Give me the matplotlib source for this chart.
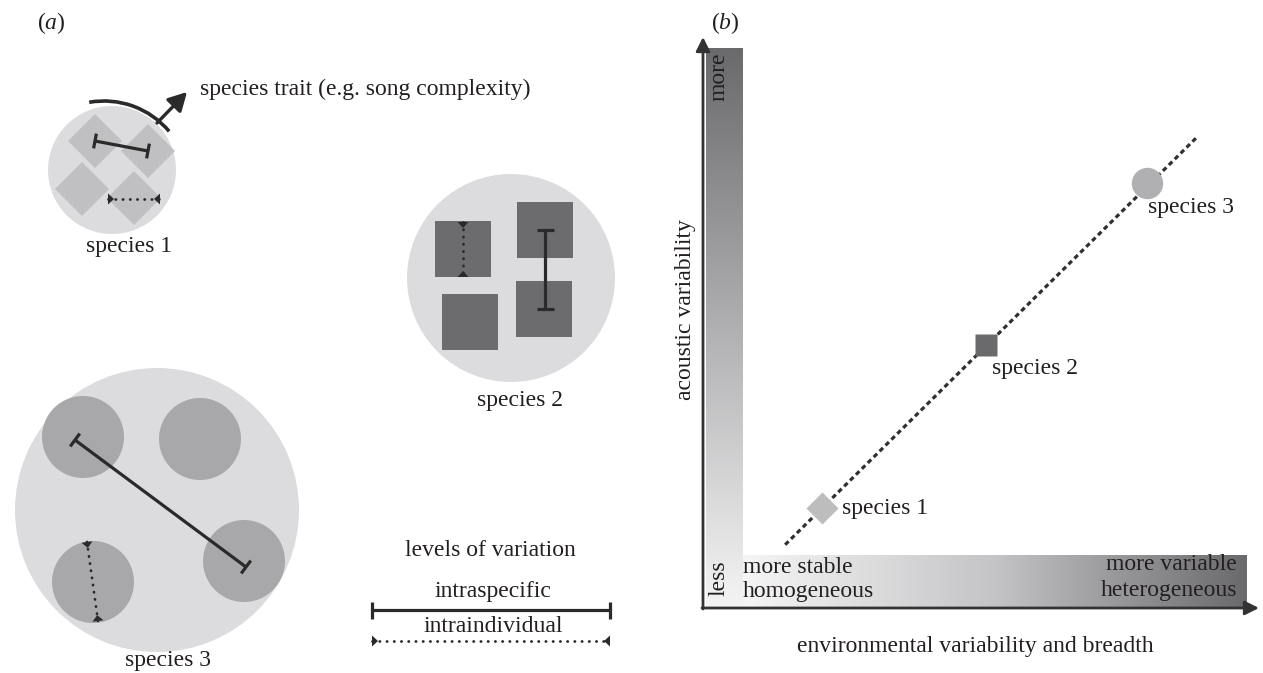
import numpy as np
import matplotlib
matplotlib.use('Agg')
import matplotlib.pyplot as plt
from matplotlib import patches
from matplotlib.colors import LinearSegmentedColormap

plt.rcParams['font.family'] = ['Liberation Serif', 'DejaVu Serif']
plt.rcParams['mathtext.fontset'] = 'custom'
plt.rcParams['mathtext.rm'] = 'Liberation Serif'
plt.rcParams['mathtext.it'] = 'Liberation Serif:italic'

# ---------------- data ----------------
species_names = ['species 1', 'species 2', 'species 3']
# panel (b): relative position of each species on the two gradients (0-1)
env_variability = [0.214, 0.510, 0.800]
acoustic_variability = [0.175, 0.461, 0.746]
# dashed trend line through the species
trend_env = [0.148, 0.890]
trend_acoustic = [0.111, 0.826]
legend_levels = ['intraspecific', 'intraindividual']
axis_labels = ['environmental variability and breadth', 'acoustic variability']
gradient_ends_x = ['more stable\nhomogeneous', 'more variable\nheterogeneous']
gradient_ends_y = ['less', 'more']

# ---------------- style ----------------
W, H = 1263, 673
FS = 17
TXT = '#231f20'
LINE = '#2a2a2a'
BIG = '#dcdcde'
C_DIAM = '#c0c0c2'
C_SQ = '#6c6c6e'
C_CIRC = '#a8a8aa'

fig = plt.figure(figsize=(W / 100, H / 100), dpi=100)
ax = fig.add_axes([0, 0, 1, 1])
ax.set_xlim(0, W)
ax.set_ylim(H, 0)
ax.axis('off')


def ibar(p0, p1, cap=16, lw=2.3):
    p0 = np.array(p0, float); p1 = np.array(p1, float)
    d = p1 - p0; u = d / np.linalg.norm(d); n = np.array([-u[1], u[0]])
    ax.plot([p0[0], p1[0]], [p0[1], p1[1]], color=LINE, lw=lw, solid_capstyle='butt', zorder=5)
    for p in (p0, p1):
        a = p + n * cap / 2; b = p - n * cap / 2
        ax.plot([a[0], b[0]], [a[1], b[1]], color=LINE, lw=lw, solid_capstyle='butt', zorder=5)


def dotbar(p0, p1, tri=6, half=5.5, lw=2.0):
    p0 = np.array(p0, float); p1 = np.array(p1, float)
    d = p1 - p0; u = d / np.linalg.norm(d); n = np.array([-u[1], u[0]])
    ax.plot([p0[0], p1[0]], [p0[1], p1[1]], color=LINE, lw=lw,
            linestyle=(0, (0.1, 2.5)), dash_capstyle='round', zorder=5)
    for p, s in ((p0, 1), (p1, -1)):
        tip = p + u * tri * s
        ax.add_patch(patches.Polygon([p + n * half, p - n * half, tip], closed=True,
                                     facecolor=LINE, edgecolor='none', zorder=6))


def txt(x, y, s, **kw):
    kw.setdefault('ha', 'center')
    kw.setdefault('va', 'baseline')
    ax.text(x, y, s, fontsize=FS, color=TXT, **kw)


# ---------------- panel (a) ----------------
txt(51, 29, r'($a$)')

# species 1 (diamonds)
ax.add_patch(patches.Circle((112, 170), 64, facecolor=BIG, edgecolor='none'))
for c in [(95, 141), (148, 151), (82, 189), (134, 198)]:
    ax.add_patch(patches.RegularPolygon(c, 4, radius=27, orientation=0,
                                        facecolor=C_DIAM, edgecolor='none'))
ibar((95, 141), (148, 151), cap=15)
dotbar((108, 199), (160, 199))
ax.add_patch(patches.Arc((104, 186), 170, 170, theta1=-100, theta2=-40,
                         color=LINE, lw=2.6))
ax.annotate('', xy=(187, 92), xytext=(157, 123),
            arrowprops=dict(arrowstyle='-|>,head_length=0.55,head_width=0.3',
                            mutation_scale=20, lw=2.4, color=LINE,
                            shrinkA=0, shrinkB=0))
txt(200, 95, 'species trait (e.g. song complexity)', ha='left')
txt(129, 252, species_names[0])

# species 2 (squares)
ax.add_patch(patches.Circle((511, 278), 104, facecolor=BIG, edgecolor='none'))
for c in [(463, 249), (545, 230), (470, 322), (544, 309)]:
    ax.add_patch(patches.Rectangle((c[0] - 28, c[1] - 28), 56, 56,
                                   facecolor=C_SQ, edgecolor='none'))
ibar((545, 230), (545, 309), cap=17)
dotbar((463, 222), (463, 277))
txt(520, 406, species_names[1])

# species 3 (circles)
ax.add_patch(patches.Circle((157, 510), 142, facecolor=BIG, edgecolor='none'))
for c in [(83, 437), (200, 439), (93, 582), (244, 561)]:
    ax.add_patch(patches.Circle(c, 41, facecolor=C_CIRC, edgecolor='none'))
ibar((75, 440), (246, 567), cap=16)
dotbar((87, 542), (98, 621))
txt(168, 666, species_names[2])

# legend
txt(490, 556, 'levels of variation')
txt(493, 597, legend_levels[0])
ibar((372, 610), (610, 610), cap=17)
txt(493, 632, legend_levels[1])
dotbar((372, 641), (610, 641))

# ---------------- panel (b) ----------------
txt(725, 29, r'($b$)')

vgrad = LinearSegmentedColormap.from_list('v', ['#6a6a6c', '#b0b0b2', '#f4f4f5'])
ax.imshow(np.linspace(0, 1, 256)[:, None], cmap=vgrad, aspect='auto',
          extent=(706, 743, 607, 48), origin='upper', interpolation='bilinear', zorder=1)
hgrad = LinearSegmentedColormap.from_list('h', ['#f5f5f6', '#c4c4c6', '#6a6a6c'])
ax.imshow(np.linspace(0, 1, 256)[None, :], cmap=hgrad, aspect='auto',
          extent=(743, 1247, 607, 555), origin='upper', interpolation='bilinear', zorder=1)
ax.set_xlim(0, W)
ax.set_ylim(H, 0)

axis_c = '#333333'
ax.annotate('', xy=(703, 37), xytext=(703, 609),
            arrowprops=dict(arrowstyle='-|>', mutation_scale=21, lw=2.0,
                            color=axis_c, shrinkA=0, shrinkB=0), zorder=4)
ax.annotate('', xy=(1259, 608), xytext=(702, 608),
            arrowprops=dict(arrowstyle='-|>', mutation_scale=21, lw=2.0,
                            color=axis_c, shrinkA=0, shrinkB=0), zorder=4)

txt(719, 77, gradient_ends_y[1], rotation=90, va='center', ha='center')
txt(719, 578, gradient_ends_y[0], rotation=90, va='center', ha='center')
lo, hi = gradient_ends_x[0].split('\n'), gradient_ends_x[1].split('\n')
txt(743, 573, lo[0], ha='left')
txt(743, 597, lo[1], ha='left')
txt(1237, 570, hi[0], ha='right')
txt(1237, 596, hi[1], ha='right')
txt(975, 652, axis_labels[0])
txt(685, 310, axis_labels[1], rotation=90, va='center', ha='center')

axb = fig.add_axes([703 / W, (H - 608) / H, 555 / W, 570 / H])
axb.set_xlim(0, 1)
axb.set_ylim(0, 1)
axb.axis('off')
axb.set_facecolor('none')
axb.plot(trend_env, trend_acoustic, color='#303030', lw=2.3,
         linestyle=(0, (1.5, 1.1)), zorder=2)
markers = ['D', 's', 'o']
mcolors = ['#bdbdbd', '#6a6a6c', '#b0b0b2']
msizes = [15.8, 16.5, 22.6]
offsets = [(20, 0), (6, -23), (1, -25)]
for x, y, m, c, ms, name, off in zip(env_variability, acoustic_variability, markers,
                                     mcolors, msizes, species_names, offsets):
    axb.plot([x], [y], marker=m, ms=ms, color=c, mec='none', ls='none', zorder=3)
    axb.annotate(name, (x, y), xytext=off, textcoords='offset pixels',
                 ha='left', va='center', fontsize=FS, color=TXT)

fig.savefig('out.png', dpi=100)
